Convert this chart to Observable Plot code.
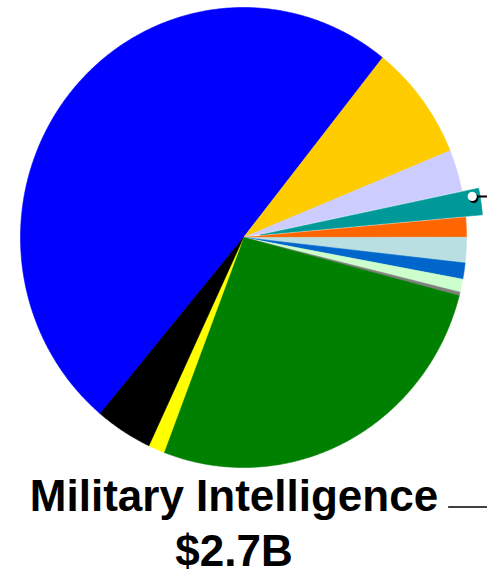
<!DOCTYPE html>
<html>
<head>
<meta charset="utf-8">
<script src="https://cdn.jsdelivr.net/npm/d3@7"></script>
<script src="https://cdn.jsdelivr.net/npm/@observablehq/plot@0.6"></script>
<style>
  html, body { margin: 0; padding: 0; background: #fff; overflow: hidden; }
</style>
</head>
<body>
<div id="chart"></div>
<script>
// ---- Data (values in $ billions) ----
const categories = [
  "Program A", "Program B", "Program C", "Military Intelligence",
  "Program E", "Program F", "Program G", "Program H",
  "Program I", "Program J", "Program K", "Program L"
];
const values = [72.0, 11.8, 4.2, 2.7, 2.0, 2.6, 1.65, 1.33, 0.36, 38.8, 1.7, 6.0];
const colors = [
  "#0000ff", "#ffcc00", "#ccccff", "#009999",
  "#ff6600", "#b9dfe2", "#0066cc", "#ccffcc",
  "#808080", "#008000", "#ffff00", "#000000"
];
const labelLines = ["Military Intelligence", "$2.7B"];
const highlighted = "Military Intelligence";

// ---- Layout (not data) ----
const W = 487, H = 570;
const startDeg = 220;      // first slice starts here, clockwise from 12 o'clock
const explode = 0.076;     // pull-out of the highlighted slice (unit radius)

const rad = Math.PI / 180;
const pie = d3.pie().sort(null).value(d => d.value)
  .startAngle(startDeg * rad).endAngle((startDeg + 360) * rad);
const table = categories.map((c, i) => ({name: c, value: values[i], color: colors[i]}));
const arcs = pie(table);

// polygon points for each slice in unit-circle coordinates (y up)
const pts = [];
let dotPos = null;
for (const a of arcs) {
  const mid = (a.startAngle + a.endAngle) / 2;
  const ex = a.data.name === highlighted ? explode : 0;
  const ox = ex * Math.sin(mid), oy = ex * Math.cos(mid);
  const n = Math.max(2, Math.ceil((a.endAngle - a.startAngle) / (0.4 * rad)));
  pts.push({name: a.data.name, color: a.data.color, x: ox, y: oy});
  for (let k = 0; k <= n; k++) {
    const t = a.startAngle + (a.endAngle - a.startAngle) * k / n;
    pts.push({name: a.data.name, color: a.data.color, x: ox + Math.sin(t), y: oy + Math.cos(t)});
  }
  pts.push({name: a.data.name, color: a.data.color, x: ox, y: oy});
  if (ex) {
    const t = a.startAngle + 0.26 * (a.endAngle - a.startAngle);
    dotPos = {x: ox + 0.965 * Math.sin(t), y: oy + 0.965 * Math.cos(t)};
  }
}
const leader = [{x1: dotPos.x, x2: 1.2, y: dotPos.y}];
const labelRule = [{x1: 0.92, x2: 1.2, y: -1.1717}];

const chart = Plot.plot({
  width: W,
  height: H,
  margin: 0,
  x: {domain: [-243 / 223, 244 / 223], axis: null},
  y: {domain: [-333 / 230, 237 / 230], axis: null},
  color: {type: "identity"},
  style: {background: "white", fontFamily: "'Liberation Sans', Arial, sans-serif"},
  marks: [
    Plot.line(pts, {x: "x", y: "y", z: "name", fill: "color", stroke: "color", strokeWidth: 0.6, curve: "linear"}),
    Plot.ruleY(leader, {y: "y", x1: "x1", x2: "x2", stroke: "black", strokeWidth: 2}),
    Plot.dot([dotPos], {x: "x", y: "y", r: 4.6, dx: 1.5, dy: 2, fill: "black", stroke: "none"}),
    Plot.dot([dotPos], {x: "x", y: "y", r: 4.6, fill: "white", stroke: "none"}),
    Plot.ruleY(labelRule, {y: "y", x1: "x1", x2: "x2", stroke: "black", strokeWidth: 1.5}),
    Plot.text([labelLines.join("\n")], {
      frameAnchor: "bottom", lineAnchor: "bottom", dx: -10, dy: -5,
      lineHeight: 1.23, fontSize: 44, fontWeight: "bold", fill: "black",
      fontFamily: "'Liberation Sans', Arial, sans-serif"
    })
  ]
});
document.getElementById("chart").appendChild(chart);
</script>
</body>
</html>
